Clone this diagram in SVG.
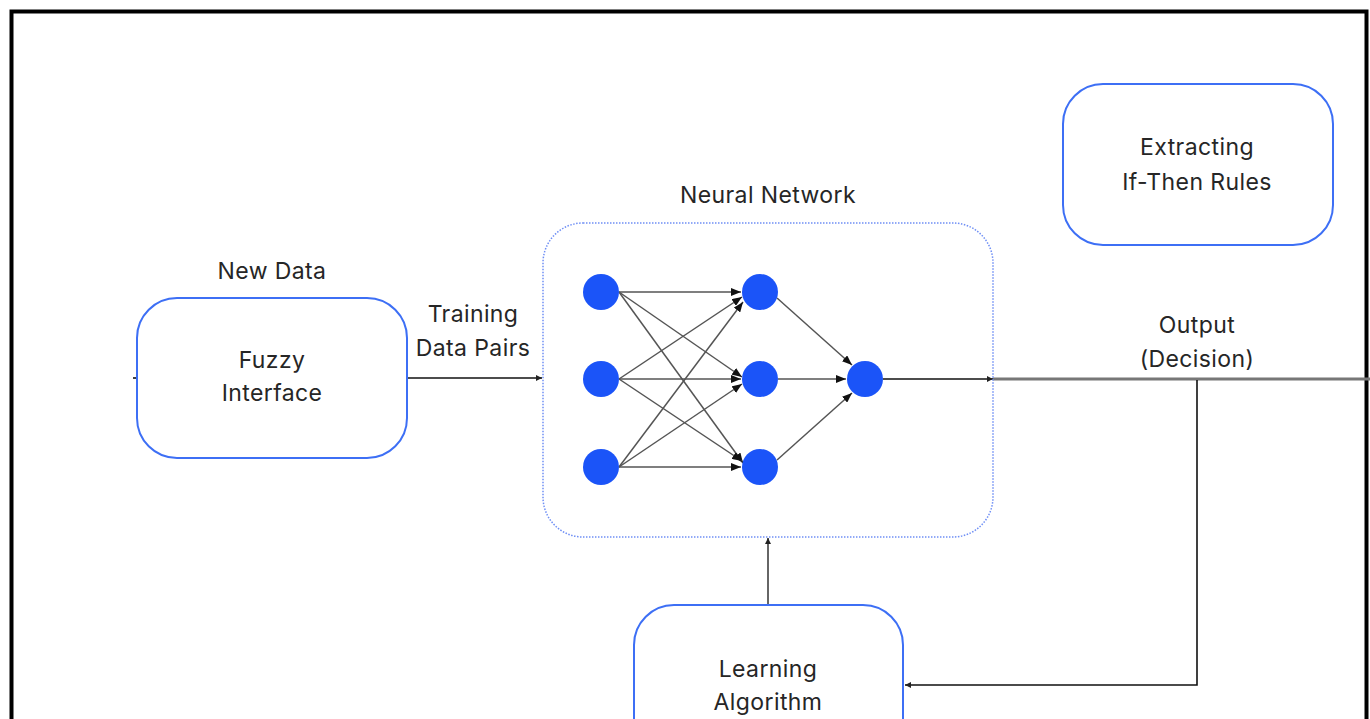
<svg xmlns="http://www.w3.org/2000/svg" width="1370" height="719" viewBox="0 0 1370 719">
<style>
.box{fill:#fff;stroke:#3d6ff5;stroke-width:2}
.dot{fill:none;stroke:#6f8ff5;stroke-width:1.5;stroke-dasharray:1.5 1.5}
.t{font-family:Inter,"Open Sans","Liberation Sans",sans-serif;font-size:23px;letter-spacing:0.4px;fill:#262626;text-anchor:middle}
.n{fill:#1b54f8}
.w{stroke:#555;stroke-width:1.5;fill:none}
.c{stroke:#111;stroke-width:1.6;fill:none}
</style>
<defs>
<marker id="a" viewBox="0 0 10 8" refX="10" refY="4" markerWidth="10" markerHeight="8" markerUnits="userSpaceOnUse" orient="auto"><path d="M0,0 L10,4 L0,8 z" fill="#111"/></marker>
<marker id="s" viewBox="0 0 6 6" refX="6" refY="3" markerWidth="6" markerHeight="6" markerUnits="userSpaceOnUse" orient="auto"><path d="M0,0 L6,3 L0,6 z" fill="#222"/></marker>
</defs>
<rect width="1370" height="719" fill="#fff"/>
<rect x="11.5" y="11.5" width="1355" height="800" fill="none" stroke="#000" stroke-width="4"/>
<g id="connectors">
<line class="c" x1="133" y1="378" x2="137" y2="378"/>
<line class="c" x1="407" y1="378" x2="542" y2="378" marker-end="url(#s)"/>
<line class="c" x1="883" y1="379" x2="993" y2="379" marker-end="url(#s)"/>
<line x1="993" y1="379" x2="1370" y2="379" stroke="#777" stroke-width="3"/>
<polyline class="c" points="1197,380 1197,685 905,685" marker-end="url(#s)"/>
<line x1="768" y1="605" x2="768" y2="538" stroke="#666" stroke-width="2" marker-end="url(#s)"/>
</g>
<g id="fuzzy-interface">
<rect class="box" x="137" y="298" width="270" height="160" rx="40"/>
<text class="t" x="272" y="368">Fuzzy</text>
<text class="t" x="272" y="401">Interface</text>
</g>
<g id="new-data-label"><text class="t" x="272" y="279">New Data</text></g>
<g id="training-label">
<text class="t" x="473" y="322">Training</text>
<text class="t" x="473" y="356">Data Pairs</text>
</g>
<g id="neural-network">
<rect class="dot" x="543" y="223" width="450" height="314" rx="40"/>
<text class="t" x="768" y="203">Neural Network</text>
<g id="weights">
<line class="w" x1="619" y1="292" x2="741" y2="292" marker-end="url(#a)"/>
<line class="w" x1="619" y1="292" x2="742" y2="377" marker-end="url(#a)"/>
<line class="w" x1="619" y1="292" x2="743" y2="463" marker-end="url(#a)"/>
<line class="w" x1="619" y1="379" x2="742" y2="297" marker-end="url(#a)"/>
<line class="w" x1="619" y1="379" x2="741" y2="379" marker-end="url(#a)"/>
<line class="w" x1="619" y1="379" x2="742" y2="461" marker-end="url(#a)"/>
<line class="w" x1="619" y1="467" x2="743" y2="302" marker-end="url(#a)"/>
<line class="w" x1="619" y1="467" x2="742" y2="384" marker-end="url(#a)"/>
<line class="w" x1="619" y1="467" x2="741" y2="467" marker-end="url(#a)"/>
<line class="w" x1="777" y1="298" x2="852" y2="365" marker-end="url(#a)"/>
<line class="w" x1="778" y1="379" x2="846" y2="379" marker-end="url(#a)"/>
<line class="w" x1="777" y1="460" x2="852" y2="393" marker-end="url(#a)"/>
</g>
<circle class="n" cx="601" cy="292" r="18"/>
<circle class="n" cx="601" cy="379" r="18"/>
<circle class="n" cx="601" cy="467" r="18"/>
<circle class="n" cx="760" cy="292" r="18"/>
<circle class="n" cx="760" cy="379" r="18"/>
<circle class="n" cx="760" cy="467" r="18"/>
<circle class="n" cx="865" cy="379" r="18"/>
</g>
<g id="output-label">
<text class="t" x="1197" y="333">Output</text>
<text class="t" x="1197" y="367">(Decision)</text>
</g>
<g id="extracting-rules">
<rect class="box" x="1063" y="84" width="270" height="161" rx="40"/>
<text class="t" x="1197" y="155">Extracting</text>
<text class="t" x="1197" y="190">If-Then Rules</text>
</g>
<g id="learning-algorithm">
<rect class="box" x="634" y="605" width="269" height="160" rx="40"/>
<text class="t" x="768" y="677">Learning</text>
<text class="t" x="768" y="710">Algorithm</text>
</g>
</svg>
